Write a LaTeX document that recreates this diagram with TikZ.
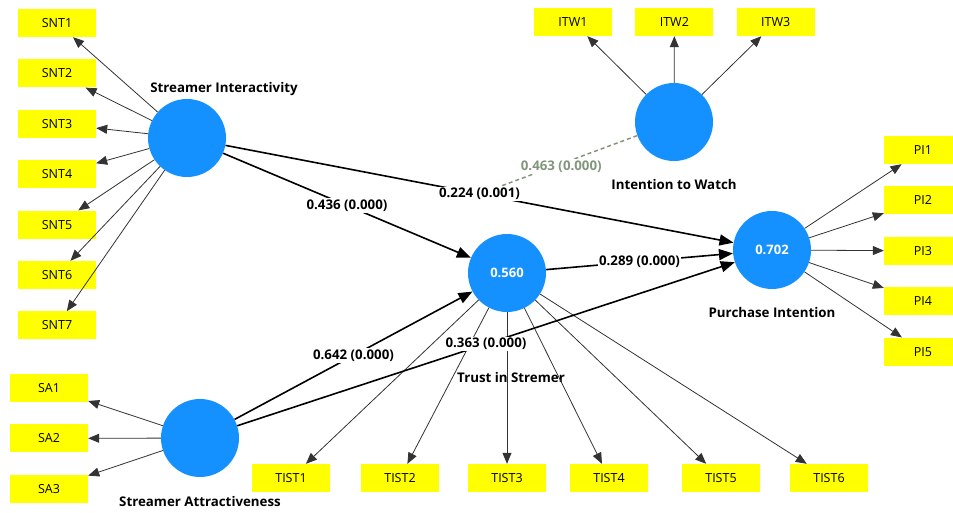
\documentclass[tikz,border=0pt]{standalone}
\usepackage{fontspec}
\setmainfont{Open Sans}
\usetikzlibrary{arrows.meta, positioning}

\definecolor{lvblue}{RGB}{21,145,255}
\definecolor{mvyellow}{RGB}{255,255,0}
\definecolor{modgreen}{RGB}{130,150,125}

\begin{document}
\begin{tikzpicture}[
    x=1pt, y=-1pt,
    node distance=22pt and 23pt,
    latent/.style = {circle, fill=lvblue, minimum size=78pt, inner sep=0pt, text=white, font=\fontsize{13}{15}\selectfont\bfseries},
    indicator/.style = {rectangle, fill=mvyellow, minimum width=78pt, minimum height=28pt, inner sep=0pt, font=\fontsize{12.5}{15}\selectfont},
    lvname/.style = {inner sep=1pt, font=\fontsize{13.3}{15}\selectfont\bfseries},
    loading/.style = {draw=black!80, line width=0.8pt, -{Triangle[length=11pt, width=9pt]}},
    structural/.style = {draw=black, line width=1.6pt, -{Triangle[length=14pt, width=11pt]}},
    coef/.style = {fill=white, inner sep=1.5pt, font=\fontsize{13.3}{15}\selectfont\bfseries},
    moderation/.style = {draw=modgreen, line width=1.5pt, dash pattern=on 4pt off 3pt}]

    \useasboundingbox (0,0) rectangle (953,512);
    \clip (0,0) rectangle (953,512);

    % latent variables
    \node[latent] (SI) at (187,138) {};
    \node[latent] (ITW) at (674,122) {};
    \node[latent] (TIS) at (507,273) {0.560};
    \node[latent] (PI) at (772,250) {0.702};
    \node[latent] (SA) at (200,438) {};

    \node[lvname, above=2pt of SI, xshift=37pt] (SIname) {Streamer Interactivity};
    \node[lvname, below=17pt of ITW] (ITWname) {Intention to Watch};
    \node[lvname, below=59pt of TIS, xshift=4pt] (TISname) {Trust in Stremer};
    \node[lvname, below=17pt of PI] (PIname) {Purchase Intention};
    \node[lvname, below=18pt of SA] (SAname) {Streamer Attractiveness};

    % indicators
    \node[indicator] (SNT1) at (57,23) {SNT1};
    \node[indicator, below=of SNT1] (SNT2) {SNT2};
    \node[indicator, below=of SNT2] (SNT3) {SNT3};
    \node[indicator, below=of SNT3] (SNT4) {SNT4};
    \node[indicator, below=of SNT4] (SNT5) {SNT5};
    \node[indicator, below=of SNT5] (SNT6) {SNT6};
    \node[indicator, below=of SNT6] (SNT7) {SNT7};

    \node[indicator] (ITW1) at (573,22) {ITW1};
    \node[indicator, right=of ITW1] (ITW2) {ITW2};
    \node[indicator, right=of ITW2] (ITW3) {ITW3};

    \node[indicator] (PI1) at (923,150) {PI1};
    \node[indicator, below=of PI1] (PI2) {PI2};
    \node[indicator, below=of PI2] (PI3) {PI3};
    \node[indicator, below=of PI3] (PI4) {PI4};
    \node[indicator, below=of PI4] (PI5) {PI5};

    \node[indicator] (SA1) at (49,388) {SA1};
    \node[indicator, below=of SA1] (SA2) {SA2};
    \node[indicator, below=of SA2] (SA3) {SA3};

    \node[indicator] (TIST1) at (291,478) {TIST1};
    \node[indicator] (TIST2) at (400,478) {TIST2};
    \node[indicator] (TIST3) at (507,478) {TIST3};
    \node[indicator] (TIST4) at (609,478) {TIST4};
    \node[indicator] (TIST5) at (721,478) {TIST5};
    \node[indicator] (TIST6) at (829,478) {TIST6};

    % outer loadings
    \draw[loading] (SI) -- (SNT1);
    \draw[loading] (SI) -- (SNT2);
    \draw[loading] (SI) -- (SNT3);
    \draw[loading] (SI) -- (SNT4);
    \draw[loading] (SI) -- (SNT5);
    \draw[loading] (SI) -- (SNT6);
    \draw[loading] (SI) -- (SNT7);

    \draw[loading] (ITW) -- (ITW1);
    \draw[loading] (ITW) -- (ITW2);
    \draw[loading] (ITW) -- (ITW3);

    \draw[loading] (PI) -- (PI1);
    \draw[loading] (PI) -- (PI2);
    \draw[loading] (PI) -- (PI3);
    \draw[loading] (PI) -- (PI4);
    \draw[loading] (PI) -- (PI5);

    \draw[loading] (SA) -- (SA1);
    \draw[loading] (SA) -- (SA2);
    \draw[loading] (SA) -- (SA3);

    \draw[loading] (TIS) -- (TIST1);
    \draw[loading] (TIS) -- (TIST2);
    \draw[loading] (TIS) -- (TIST3);
    \draw[loading] (TIS) -- (TIST4);
    \draw[loading] (TIS) -- (TIST5);
    \draw[loading] (TIS) -- (TIST6);

    % inner model
    \draw[structural] (SI) -- node[coef] (SIPI) {0.224 (0.001)} (PI);
    \draw[structural] (SI) -- node[coef] {0.436 (0.000)} (TIS);
    \draw[structural] (TIS) -- node[coef] {0.289 (0.000)} (PI);
    \draw[structural] (SA) -- node[coef] {0.642 (0.000)} (TIS);
    \draw[structural] (SA) -- node[coef] {0.363 (0.000)} (PI);
    \draw[moderation] (ITW) -- node[coef, pos=0.56, yshift=-3pt, text=modgreen] {0.463 (0.000)} (SIPI);
\end{tikzpicture}
\end{document}
